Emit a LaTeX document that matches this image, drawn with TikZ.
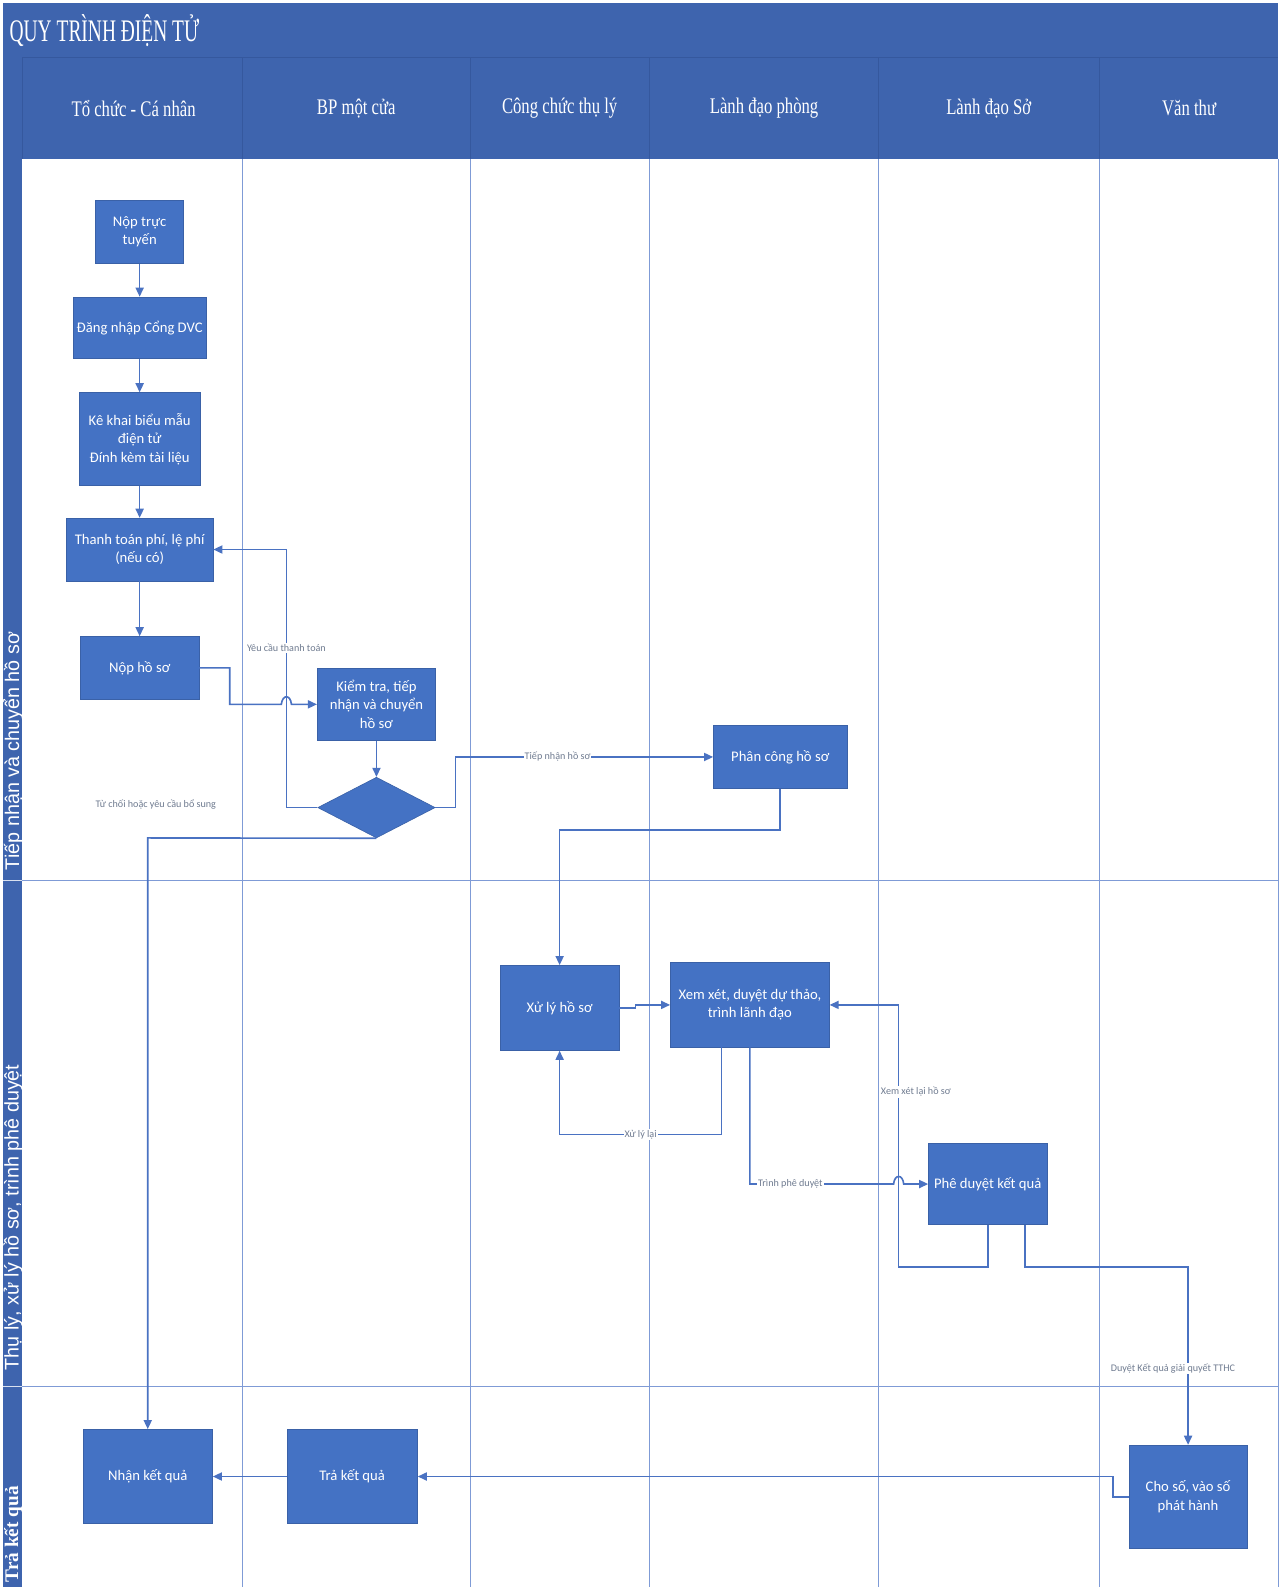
\documentclass[tikz,border=0pt]{standalone}
\usepackage{fontspec}
\setmainfont{Liberation Serif}
\newfontfamily\boxfont{Carlito}
\newfontfamily\lanefont{Liberation Sans}
\usetikzlibrary{shapes.geometric,arrows.meta}
\definecolor{hdrblue}{HTML}{3E64AE}
\definecolor{hdrdark}{HTML}{35589E}
\definecolor{boxblue}{HTML}{4472C4}
\definecolor{linblue}{HTML}{4A72C2}
\definecolor{lanelin}{HTML}{7F9BD6}
\definecolor{lbl}{HTML}{6F7B90}
\newcommand{\cond}[2]{\scalebox{#1}[1]{#2}}
\tikzset{
  box/.style={draw=boxblue!85!black, line width=0.6pt, fill=boxblue, text=white,
    font=\boxfont\fontsize{14.5}{18}\selectfont, align=center, inner sep=0pt},
  conn/.style={draw=linblue, line width=1.6pt},
  arr/.style={conn, -{Triangle[length=9pt,width=8pt]}},
  elabel/.style={fill=white, text=lbl, inner sep=1pt, font=\boxfont\fontsize{10}{12}\selectfont},
  lanehead/.style={text=white, font=\fontsize{22}{24}\selectfont},
  lanev/.style={draw=lanelin, line width=1pt},
}
\begin{document}
\begin{tikzpicture}[x=1pt,y=-1pt]
\useasboundingbox (0,0) rectangle (1263.8,1568.2);
\fill[white] (0,0) rectangle (1279,1587);
% header band and left strip
\fill[hdrblue] (3,3) rectangle (1263,157);
\fill[hdrblue] (3,157) rectangle (22,1587);
\draw[hdrdark, line width=0.8pt] (22,57) -- (1263,57);
\draw[hdrdark, line width=0.8pt] (22,57) -- (22,157);
\foreach \x in {240,465,642,868,1086} {
  \draw[hdrdark, line width=0.8pt] (\x,57) -- (\x,157);
  \draw[lanev] (\x,157) -- (\x,1587);
}
% horizontal lane separators
\draw[lanev] (22,870) -- (1263,870);
\draw[lanev] (22,1370) -- (1263,1370);
\draw[white!80!hdrblue, line width=0.8pt] (3,870) -- (22,870);
\draw[white!80!hdrblue, line width=0.8pt] (3,1370) -- (22,1370);
\draw[lanev] (1263,157) -- (1263,1587);

% title and lane headers
\node[anchor=west, text=white, font=\fontsize{31}{33}\selectfont] (title) at (6,30) {\cond{0.62}{QUY TRÌNH ĐIỆN TỬ}};
\node[lanehead] (h1) at (132,107) {\cond{0.75}{Tổ chức - Cá nhân}};
\node[lanehead] (h2) at (352,107) {\cond{0.75}{BP một cửa}};
\node[lanehead] (h3) at (553,107) {\cond{0.75}{Công chức thụ lý}};
\node[lanehead] (h4) at (755,107) {\cond{0.75}{Lành đạo phòng}};
\node[lanehead] (h5) at (977,107) {\cond{0.75}{Lành đạo Sở}};
\node[lanehead] (h6) at (1175,107) {\cond{0.75}{Văn thư}};

% swimlane labels
\node[rotate=90, text=white, font=\lanefont\fontsize{19.5}{21}\selectfont] (l1) at (13,742) {Tiếp nhận và chuyển hồ sơ};
\node[rotate=90, text=white, font=\lanefont\fontsize{19.5}{21}\selectfont] (l2) at (13,1203) {Thụ lý, xử lý hồ sơ, trình phê duyệt};
\node[rotate=90, text=white, font=\bfseries\fontsize{19}{21}\selectfont] (l3) at (13,1516) {Trả kết quả};

% process boxes
\node[box, minimum width=87, minimum height=63] (nop) at (138,229) {Nộp trực\\tuyến};
\node[box, minimum width=132, minimum height=61] (dang) at (138,324) {Đăng nhập Cổng DVC};
\node[box, minimum width=119, minimum height=92] (ke) at (138,434) {Kê khai biểu mẫu\\điện tử\\Đính kèm tài liệu};
\node[box, minimum width=145, minimum height=62] (tt) at (138,543) {Thanh toán phí, lệ phí\\(nếu có)};
\node[box, minimum width=117, minimum height=62] (nhs) at (138,660) {Nộp hồ sơ};
\node[box, minimum width=117, minimum height=71] (kt) at (372,696) {Kiểm tra, tiếp\\nhận và chuyển\\hồ sơ};
\node[diamond, draw=boxblue!85!black, fill=boxblue, line width=0.6pt, inner sep=0pt, minimum width=116, minimum height=60, aspect=1.9] (dia) at (372,798) {};
\node[box, minimum width=132, minimum height=62] (pc) at (771,748) {Phân công hồ sơ};
\node[box, minimum width=117, minimum height=84] (xl) at (553,996) {Xử lý hồ sơ};
\node[box, minimum width=157, minimum height=84] (xx) at (741,993) {Xem xét, duyệt dự thảo,\\trình lãnh đạo};
\node[box, minimum width=117, minimum height=80] (pd) at (976,1170) {Phê duyệt kết quả};
\node[box, minimum width=128, minimum height=93] (nk) at (146,1459) {Nhận kết quả};
\node[box, minimum width=129, minimum height=93] (tk) at (348,1459) {Trả kết quả};
\node[box, minimum width=117, minimum height=102] (cs) at (1174,1479) {Cho số, vào số\\phát hành};

% connectors
\draw[arr] (nop) -- (dang);
\draw[arr] (dang) -- (ke);
\draw[arr] (ke) -- (tt);
\draw[arr] (tt) -- (nhs);
\draw[arr] (nhs.east) -- (227,660) -- (227,696) -- (278,696)
  .. controls (279,686) and (287,686) .. (288,696) -- (kt.west);
\draw[arr] (dia.west) -- (283,798) -- (283,543) -- (tt.east);
\node[elabel] (lb1) at (283,640) {Yêu cầu thanh toán};
\draw[arr] (kt.south) -- (dia.north);
\draw[arr] (dia.east) -- (450,798) -- (450,748) -- (pc.west);
\node[elabel] (lb2) at (551,748) {Tiếp nhận hồ sơ};
\draw[arr] (dia.south) -- (146,828) -- (nk.north);
\node[elabel] (lb3) at (154,795) {Từ chối hoặc yêu cầu bổ sung};
\draw[arr] (pc.south) -- (771,820) -- (553,820) -- (xl.north);
\draw[arr] (xl.east) -- (628,996) -- (628,993) -- (xx.west);
\draw[arr] (713,1035) -- (713,1121) -- (553,1121) -- (xl.south);
\node[elabel] (lb4) at (633,1121) {Xử lý lại};
\draw[arr] (741,1035) -- (741,1170) -- (883,1170)
  .. controls (884,1160) and (892,1160) .. (893,1170) -- (pd.west);
\node[elabel] (lb5) at (781,1170) {Trình phê duyệt};
\draw[arr] (976,1210) -- (976,1252) -- (888,1252) -- (888,993) -- (xx.east);
\node[elabel] (lb6) at (905,1079) {Xem xét lại hồ sơ};
\draw[arr] (1013,1210) -- (1013,1252) -- (1174,1252) -- (cs.north);
\node[elabel] (lb7) at (1159,1352) {Duyệt Kết quả giải quyết TTHC};
\draw[arr] (cs.west) -- (1100,1479) -- (1100,1459) -- (tk.east);
\draw[arr] (tk.west) -- (nk.east);
\end{tikzpicture}
\end{document}
